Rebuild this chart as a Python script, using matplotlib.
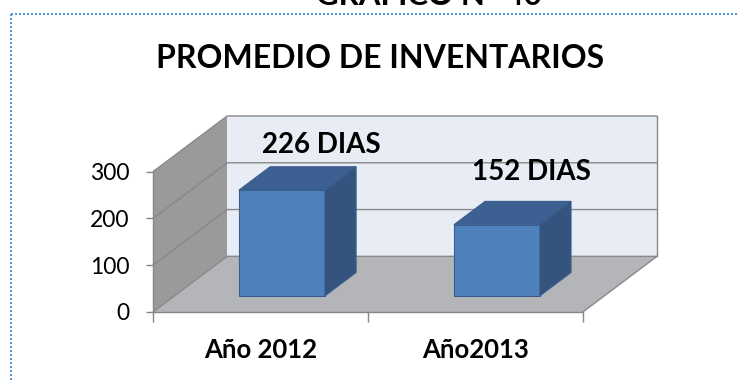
import matplotlib
matplotlib.use("Agg")
import matplotlib.pyplot as plt
from matplotlib.patches import Polygon
from matplotlib.lines import Line2D

# ---- data ----
categories = ["Año 2012", "Año2013"]
dias = [226, 152]
value_labels = ["226 DIAS", "152 DIAS"]
y_ticks = [0, 100, 200, 300]
y_tick_labels = ["0", "100", "200", "300"]
chart_title = "PROMEDIO DE INVENTARIOS"
header = "GRAFICO N° 40"

# ---- styling ----
W, H = 739, 380
FONT = "Lato"
wall_side = "#9a9a9a"
wall_back = "#e8ecf5"
floor_col = "#b3b5b9"
grid_col = "#888888"
bar_front = "#4f81bd"
bar_top = "#3d6092"
bar_side = "#34547e"
bar_edge = "#3a5d8c"

fig = plt.figure(figsize=(W / 100, H / 100), dpi=100)

n = len(categories)
y_max = y_ticks[-1]
DX, DY = 0.345, 119.0          # oblique depth of the 3-D box (data units)
bar_w = 0.40                    # bar width in category units
d0, d1 = 0.29, 0.71             # bar depth span as fraction of the box depth

# axes: origin = front-left-bottom corner, top-right = back-right-top corner
x0_px, y0_px, x1_px, y1_px = 153, 312, 657, 116
ax = fig.add_axes([x0_px / W, 1 - y0_px / H, (x1_px - x0_px) / W, (y0_px - y1_px) / H])
ax.set_xlim(0, n + DX)
ax.set_ylim(0, y_max + DY)
ax.patch.set_visible(False)


def proj(x, y, d):
    """Oblique projection of a point at depth fraction d."""
    return (x + d * DX, y + d * DY)


def poly(pts, color, z, ec="none", lw=0):
    ax.add_patch(Polygon(pts, closed=True, facecolor=color, edgecolor=ec,
                         linewidth=lw, zorder=z, clip_on=False))


# walls and floor
poly([proj(0, 0, 0), proj(0, 0, 1), proj(0, y_max, 1), proj(0, y_max, 0)], wall_side, 1)
poly([proj(0, 0, 1), proj(n, 0, 1), proj(n, y_max, 1), proj(0, y_max, 1)], wall_back, 1)
poly([proj(0, 0, 0), proj(n, 0, 0), proj(n, 0, 1), proj(0, 0, 1)], floor_col, 1)

# gridlines on side wall and back wall
for v in y_ticks:
    xs, ys = zip(proj(0, v, 0), proj(0, v, 1), proj(n, v, 1))
    ax.plot(xs, ys, color=grid_col, lw=1.0, zorder=2, clip_on=False,
            solid_capstyle="butt")
# right edges of floor and back wall
for pts in ([proj(n, 0, 0), proj(n, 0, 1)], [proj(n, 0, 1), proj(n, y_max, 1)]):
    xs, ys = zip(*pts)
    ax.plot(xs, ys, color=grid_col, lw=1.0, zorder=2, clip_on=False)

# bars
for i, v in enumerate(dias):
    xl, xr = i + 0.5 - bar_w / 2, i + 0.5 + bar_w / 2
    poly([proj(xl, 0, d0), proj(xr, 0, d0), proj(xr, v, d0), proj(xl, v, d0)],
         bar_front, 5, bar_edge, 0.8)
    poly([proj(xl, v, d0), proj(xr, v, d0), proj(xr, v, d1), proj(xl, v, d1)],
         bar_top, 5, bar_edge, 0.8)
    poly([proj(xr, 0, d0), proj(xr, 0, d1), proj(xr, v, d1), proj(xr, v, d0)],
         bar_side, 5, bar_edge, 0.8)

# value labels above the bars
label_offsets = [(8, 14), (3, 21)]   # pixels
for i, (v, txt) in enumerate(zip(dias, value_labels)):
    ax.annotate(txt, xy=proj(i + 0.5, v, d1), xytext=label_offsets[i],
                textcoords="offset pixels", ha="center", va="baseline",
                fontsize=20, fontweight="bold", family=FONT, color="black",
                zorder=10, annotation_clip=False)

# axes spines and ticks
for s in ("top", "right"):
    ax.spines[s].set_visible(False)
ax.spines["left"].set_bounds(0, y_max)
ax.spines["bottom"].set_bounds(0, n)
for s in ("left", "bottom"):
    ax.spines[s].set_color("#868686")
    ax.spines[s].set_linewidth(1.0)
    ax.spines[s].set_zorder(3)

ax.set_yticks(y_ticks)
ax.set_yticklabels(y_tick_labels, family=FONT, fontsize=16.5)
ax.tick_params(axis="y", direction="out", length=5, width=1.0, color="#868686",
               pad=12)
ax.set_xticks(range(n + 1))
ax.set_xticklabels([])
ax.tick_params(axis="x", direction="out", length=7.5, width=1.0, color="#868686")

for i, c in enumerate(categories):
    ax.annotate(c, xy=(i + 0.5, 0), xytext=(0, -46), textcoords="offset pixels",
                ha="center", va="baseline", fontsize=18.5, fontweight="bold",
                family=FONT, annotation_clip=False)

# titles
fig.text(380 / W, 1 - 68 / H, chart_title, ha="center", va="baseline",
         fontsize=23, fontweight="bold", family=FONT)
fig.text(429 / W, 1 - 5 / H, header, ha="center", va="baseline",
         fontsize=22.5, fontweight="bold", family=FONT)

# dotted frame of the chart area
frame_kw = dict(color="#2a86d6", lw=1.2, linestyle=(0, (1.2, 1.2)),
                transform=fig.transFigure)
fig.add_artist(Line2D([11 / W, 1.0], [1 - 14 / H, 1 - 14 / H], **frame_kw))
fig.add_artist(Line2D([11 / W, 11 / W], [0.0, 1 - 14 / H], **frame_kw))

fig.savefig("out.png", dpi=100)
